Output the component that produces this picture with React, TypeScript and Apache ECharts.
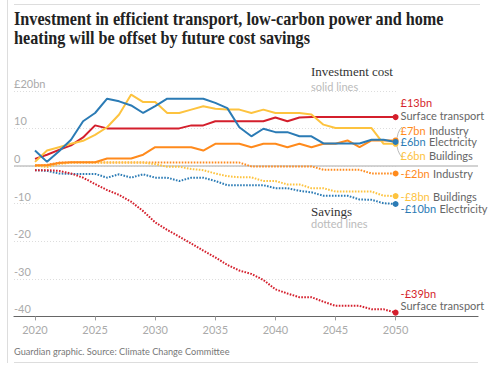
import React, { useEffect, useRef } from "react";
import * as echarts from "echarts";

const years = [
  2020, 2021, 2022, 2023, 2024, 2025, 2026, 2027, 2028, 2029, 2030,
  2031, 2032, 2033, 2034, 2035, 2036, 2037, 2038, 2039, 2040,
  2041, 2042, 2043, 2044, 2045, 2046, 2047, 2048, 2049, 2050,
];

// Investment cost (£bn), solid lines
const transportInvestment = [
  1.9, 3, 4.3, 5.5, 7.6, 10.8, 10, 10, 10, 10, 10,
  10, 10, 10.8, 10.8, 11.9, 11.9, 11.9, 11.9, 11.9, 12.9,
  11.9, 12.9, 13, 13, 13, 13, 13, 13, 13, 13,
];
const electricityInvestment = [
  4.1, 1.1, 3.9, 7, 11.9, 14.1, 17.9, 17.2, 16.1, 14.1, 15.9,
  17.9, 17.9, 17.9, 17.9, 16.8, 15.4, 10.3, 7.9, 9.9, 9,
  9, 7.9, 7.9, 6, 6, 6, 6, 7, 7, 6.4,
];
const buildingsInvestment = [
  1.1, 4.1, 5, 5.9, 6.7, 8.3, 10.3, 13.7, 19, 17, 17,
  14.1, 14.1, 15, 15.9, 15.2, 15, 15, 14.1, 15, 14.1,
  14.1, 14.1, 13.7, 11, 10.1, 10.1, 10.1, 10.1, 5.9, 5.9,
];
const industryInvestment = [
  0.2, 0.2, 0.8, 1, 1, 1, 2, 2, 2, 3, 5,
  5, 5, 5, 4.1, 5.9, 5.9, 5.9, 5, 5.9, 5.9,
  5, 5.9, 5, 5.9, 5.9, 6.8, 5, 6.8, 6.8, 6.8,
];

// Savings (£bn), dotted lines
const industrySavings = [
  0, 0.3, 0.9, 0.9, 0.9, 0.9, 0.9, 0.9, 0.9, 0.9, 0.9,
  0.9, 0.9, 0.9, 0.9, 0.9, 0.9, 0.9, -0.1, -0.1, -0.1,
  -0.1, -0.1, -0.1, -1, -1, -1, -1, -2, -2, -2,
];
const buildingsSavings = [
  0.2, -0.3, 0.5, 0.9, 0.9, 0.9, 0.9, 0.9, 0.9, 0.9, 0.5,
  -0.2, -0.2, -0.8, -1.1, -2, -2.7, -3, -3, -4, -4,
  -4.9, -4.9, -5.9, -5.9, -6.8, -6.8, -6.8, -6.8, -7.9, -8,
];
const electricitySavings = [
  -1.1, -1.3, -2, -2.1, -2.1, -2.1, -3.1, -2.2, -3.1, -2.2, -3.1,
  -3.1, -4, -3.1, -3.1, -4, -5.1, -5.1, -5.1, -5.1, -5.9,
  -5.9, -6.6, -7, -7.9, -7.9, -7.9, -8.9, -9, -9.9, -10.1,
];
const transportSavings = [
  -1.1, -1.1, -1.3, -2, -3.1, -4.8, -6.4, -7.7, -9.5, -12, -15,
  -17, -18.8, -20.6, -22.5, -24.3, -26.3, -27.8, -28.7, -30.3, -32.8,
  -33.9, -34.9, -34.9, -36.1, -37.2, -37.2, -37.2, -38.1, -38.1, -39,
];

const xTicks = [2020, 2025, 2030, 2035, 2040, 2045, 2050];
const yMin = -40;
const yMax = 20;
const yStep = 10;

const TITLE =
  "Investment in efficient transport, low-carbon power and home\nheating will be offset by future cost savings";
const SOURCE = "Guardian graphic. Source: Climate Change Committee";

const RED = "#d41f2c";
const ORANGE = "#ff8a1c";
const BLUE = "#2b7bb5";
const YELLOW = "#fdc33f";

const SANS = "Lato, Roboto, sans-serif";
const SERIF = "'Liberation Serif', 'DejaVu Serif', serif";

type Def = {
  name: string;
  values: number[];
  color: string;
  dotted: boolean;
  twoLine: boolean;
  dy: number;
};

const defs: Def[] = [
  { name: "Surface transport", values: transportInvestment, color: RED, dotted: false, twoLine: true, dy: -8 },
  { name: "Industry", values: industryInvestment, color: ORANGE, dotted: false, twoLine: false, dy: -10 },
  { name: "Buildings", values: buildingsInvestment, color: YELLOW, dotted: false, twoLine: false, dy: 12 },
  { name: "Electricity", values: electricityInvestment, color: BLUE, dotted: false, twoLine: false, dy: 0 },
  { name: "Industry", values: industrySavings, color: ORANGE, dotted: true, twoLine: false, dy: 0 },
  { name: "Buildings", values: buildingsSavings, color: YELLOW, dotted: true, twoLine: false, dy: 0 },
  { name: "Electricity", values: electricitySavings, color: BLUE, dotted: true, twoLine: false, dy: 5 },
  { name: "Surface transport", values: transportSavings, color: RED, dotted: true, twoLine: true, dy: -13 },
];

function money(v: number) {
  const r = Math.round(v);
  return (r < 0 ? "-£" + Math.abs(r) : "£" + r) + "bn";
}

function makeSeries(d: Def, i: number) {
  const n = d.values.length;
  return {
    type: "line",
    name: d.name + i,
    xAxisIndex: 0,
    yAxisIndex: 0,
    z: 3 + (d.dotted ? 0 : 1),
    symbol: "none",
    showSymbol: true,
    clip: false,
    silent: true,
    data: d.values.map((v, k) =>
      k === n - 1
        ? { value: [years[k], v], symbol: "circle", symbolSize: 6 }
        : [years[k], v]
    ),
    lineStyle: {
      color: d.color,
      width: 2,
      type: d.dotted ? [1.6, 1.4] : "solid",
      cap: "butt",
    },
    itemStyle: { color: d.color },
    endLabel: {
      show: true,
      distance: 5,
      offset: [0, d.dy],
      formatter: (p: any) => {
        const val = money(p.value[1]);
        return d.twoLine
          ? `{v|${val}}\n{n|${d.name}}`
          : `{v|${val}} {n|${d.name}}`;
      },
      rich: {
        v: { color: d.color, fontSize: 11, fontFamily: SANS, lineHeight: 12.5 },
        n: { color: "#666", fontSize: 11, fontFamily: SANS, lineHeight: 12.5 },
      },
    },
  };
}

export default function App() {
  const ref = useRef<HTMLDivElement>(null);

  useEffect(() => {
    if (!ref.current) return;
    const chart = echarts.init(ref.current, null, { renderer: "svg" });

    const gridTop = 90.8;
    const gridBottom = 55.6;
    const xMin = 2018.253;
    const xMax = 2050.117;

    const option: any = {
      animation: false,
      backgroundColor: "#fff",
      grid: [
        { left: 14, right: 94, top: gridTop, bottom: gridBottom, containLabel: false },
        { left: 14, right: 13, top: gridTop, bottom: gridBottom, containLabel: false },
      ],
      xAxis: [
        {
          gridIndex: 0,
          type: "value",
          min: xMin,
          max: xMax,
          axisLine: { show: false, onZero: false },
          axisTick: {
            show: true,
            customValues: xTicks,
            length: 4,
            lineStyle: { color: "#999", width: 1 },
          },
          axisLabel: {
            customValues: xTicks,
            margin: 8,
            color: "#aaa",
            fontSize: 11,
            fontFamily: SANS,
            formatter: (v: number) => String(v),
          },
          splitLine: { show: false },
        },
        {
          gridIndex: 1,
          type: "value",
          min: 0,
          max: 1,
          axisLine: { show: true, onZero: false, lineStyle: { color: "#666", width: 1.2 } },
          axisTick: { show: false },
          axisLabel: { show: false },
          splitLine: { show: false },
        },
      ],
      yAxis: [
        {
          gridIndex: 0,
          type: "value",
          min: yMin,
          max: yMax,
          interval: yStep,
          axisLine: { show: false },
          axisTick: { show: false },
          axisLabel: {
            inside: true,
            margin: 0,
            align: "left",
            verticalAlign: "bottom",
            padding: [0, 0, 2, 0],
            color: "#aaa",
            fontSize: 11,
            fontFamily: SANS,
            formatter: (v: number) => (v === yMax ? "£" + v + "bn" : String(v)),
          },
          splitLine: { show: true, lineStyle: { color: "#ddd", type: [1, 2], width: 1 } },
        },
        {
          gridIndex: 1,
          type: "value",
          min: yMin,
          max: yMax,
          show: false,
        },
      ],
      series: [
        {
          type: "line",
          xAxisIndex: 1,
          yAxisIndex: 1,
          silent: true,
          symbol: "none",
          z: 1,
          data: [
            [0, 0],
            [1, 0],
          ],
          lineStyle: { color: "#c4c4c4", width: 1.5 },
        },
        ...defs.map(makeSeries),
      ],
      graphic: [
        { type: "line", shape: { x1: 7.5, y1: 0, x2: 7.5, y2: 363 }, style: { stroke: "#ddd", lineWidth: 1 }, silent: true },
        { type: "line", shape: { x1: 14, y1: 4.5, x2: 480, y2: 4.5 }, style: { stroke: "#ddd", lineWidth: 1 }, silent: true },
        { type: "line", shape: { x1: 14, y1: 362.5, x2: 478, y2: 362.5 }, style: { stroke: "#ddd", lineWidth: 1 }, silent: true },
        {
          type: "text",
          x: 14,
          y: 10,
          scaleX: 0.9,
          style: {
            text: TITLE,
            font: `bold 18px ${SERIF}`,
            lineHeight: 19,
            fill: "#222",
            verticalAlign: "top",
          },
          silent: true,
        },
        {
          type: "text",
          x: 311,
          y: 71,
          style: { text: "Investment cost", font: `13px ${SERIF}`, fill: "#333", verticalAlign: "middle" },
          silent: true,
        },
        {
          type: "text",
          x: 311,
          y: 86,
          style: { text: "solid lines", font: `11px ${SANS}`, fill: "#bbb", verticalAlign: "middle" },
          silent: true,
        },
        {
          type: "text",
          x: 311,
          y: 211,
          style: { text: "Savings", font: `13px ${SERIF}`, fill: "#333", verticalAlign: "middle" },
          silent: true,
        },
        {
          type: "text",
          x: 311,
          y: 223.5,
          style: { text: "dotted lines", font: `11px ${SANS}`, fill: "#bbb", verticalAlign: "middle" },
          silent: true,
        },
        {
          type: "text",
          x: 14,
          y: 351,
          scaleX: 0.92,
          style: { text: SOURCE, font: `10px ${SANS}`, fill: "#777", verticalAlign: "middle" },
          silent: true,
        },
        {
          type: "bezierCurve",
          shape: { x1: 402, y1: 127, cpx1: 395, cpy1: 133, cpx2: 395, cpy2: 151, x2: 402, y2: 157 },
          style: { stroke: "#bbb", lineWidth: 1, fill: "none" },
          silent: true,
          z: 0,
        },
      ],
    };

    chart.setOption(option);
    return () => chart.dispose();
  }, []);

  return (
    <div
      ref={ref}
      style={{ position: "absolute", left: 0, top: 0, width: 491, height: 372, background: "#fff" }}
    />
  );
}
